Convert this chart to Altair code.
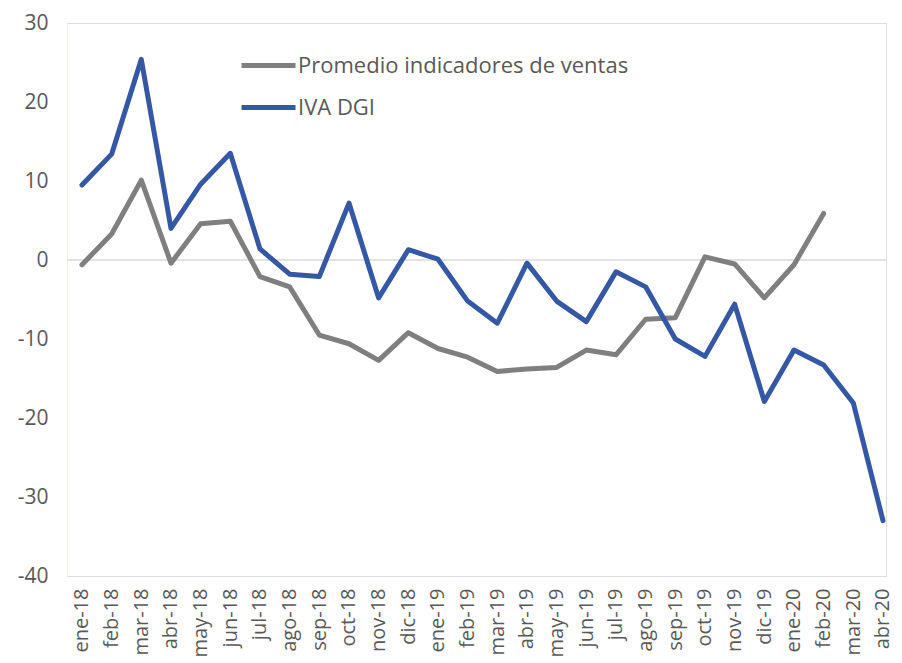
import altair as alt
import pandas as pd

months = ["ene-18", "feb-18", "mar-18", "abr-18", "may-18", "jun-18", "jul-18",
          "ago-18", "sep-18", "oct-18", "nov-18", "dic-18", "ene-19", "feb-19",
          "mar-19", "abr-19", "may-19", "jun-19", "jul-19", "ago-19", "sep-19",
          "oct-19", "nov-19", "dic-19", "ene-20", "feb-20", "mar-20", "abr-20"]

promedio = [-0.6, 3.3, 10.1, -0.4, 4.6, 4.9, -2.1, -3.4, -9.5, -10.6, -12.7,
            -9.2, -11.2, -12.3, -14.1, -13.8, -13.6, -11.4, -12.0, -7.5, -7.3,
            0.4, -0.5, -4.8, -0.6, 5.9, None, None]

iva = [9.5, 13.4, 25.4, 4.0, 9.6, 13.5, 1.4, -1.8, -2.1, 7.2, -4.8, 1.3, 0.1,
       -5.2, -8.0, -0.4, -5.2, -7.8, -1.5, -3.4, -10.0, -12.2, -5.6, -17.9,
       -11.4, -13.3, -18.1, -33.0]

series_names = ["Promedio indicadores de ventas", "IVA DGI"]
series_colors = ["#7F7F7F", "#3558A5"]
y_ticks = [-40, -30, -20, -10, 0, 10, 20, 30]

rows = []
for name, vals in zip(series_names, [promedio, iva]):
    for m, v in zip(months, vals):
        rows.append({"mes": m, "serie": name, "valor": v})
df = pd.DataFrame(rows)

FONT = "Open Sans"
TXT = "#595959"

x_enc = alt.X("mes:O", sort=months, title=None,
              scale=alt.Scale(type="point", padding=0.303, align=0.833),
              axis=alt.Axis(labelAngle=-90, labelFontSize=20, labelColor=TXT,
                            labelFont=FONT, ticks=False, domain=False,
                            labelPadding=12, grid=False))
y_enc = alt.Y("valor:Q", title=None,
              scale=alt.Scale(domain=[-40, 30], nice=False, zero=False),
              axis=alt.Axis(values=y_ticks, labelFontSize=21, labelColor=TXT,
                            labelFont=FONT, ticks=False, tickSize=0,
                            labelExpr="'' + datum.value",
                            labelPadding=19, grid=False, domain=True,
                            domainColor="#F4F2E6", domainWidth=1))
color_enc = alt.Color("serie:N",
                      scale=alt.Scale(domain=series_names, range=series_colors),
                      legend=alt.Legend(title=None, orient="none", legendX=172,
                                        legendY=13, symbolType="stroke",
                                        symbolSize=2916, symbolStrokeWidth=5,
                                        labelFontSize=22, labelFont=FONT,
                                        labelColor=TXT, labelOffset=0,
                                        rowPadding=1, labelLimit=500))

base = alt.Chart(df)

zero = alt.Chart(pd.DataFrame({"y": [0]})).mark_rule(
    color="#D9D9D9", strokeWidth=1.5).encode(y=alt.Y("y:Q"))

gray_line = base.transform_filter(
    alt.datum.serie == series_names[0]).mark_line(
    strokeWidth=5, strokeCap="round", strokeJoin="round").encode(
    x=x_enc, y=y_enc, color=color_enc)

blue_line = base.transform_filter(
    alt.datum.serie == series_names[1]).mark_line(
    strokeWidth=5, strokeCap="round", strokeJoin="round").encode(
    x=x_enc, y=y_enc, color=color_enc)

chart = alt.layer(zero, gray_line, blue_line).properties(
    width=819, height=553,
    autosize=alt.AutoSizeParams(type="none"),
    padding={"left": 59, "top": 15, "right": 8, "bottom": 85},
).configure_view(strokeWidth=0).configure(background="white")

chart.save("out.html", embed_options={"renderer": "svg", "actions": False})
